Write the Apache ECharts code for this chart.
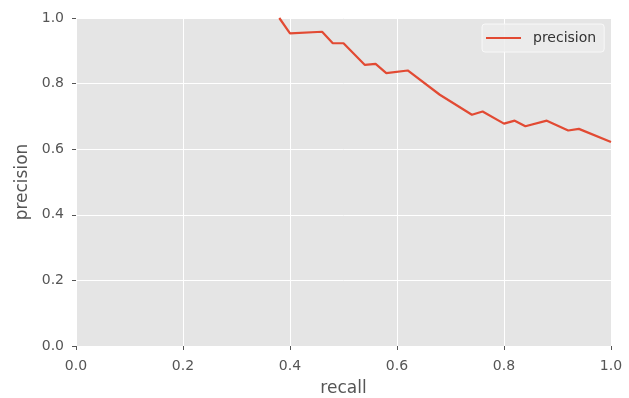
<!DOCTYPE html>
<html>
<head>
<meta charset="utf-8">
<script src="https://cdn.jsdelivr.net/npm/echarts@6/dist/echarts.min.js"></script>
<style>html,body{margin:0;padding:0;background:#fff}#c{width:629px;height:398px}</style>
</head>
<body>
<div id="c"></div>
<script>
const recall = [0.38, 0.40, 0.46, 0.48, 0.50, 0.54, 0.56, 0.58, 0.62, 0.68, 0.74, 0.76, 0.80, 0.82, 0.84, 0.88, 0.92, 0.94, 1.00];
const precision = [1.0, 0.953, 0.958, 0.923, 0.923, 0.857, 0.860, 0.832, 0.840, 0.766, 0.705, 0.715, 0.678, 0.687, 0.670, 0.687, 0.657, 0.662, 0.622];
const xTicks = [0, 0.2, 0.4, 0.6, 0.8, 1.0];
const yTicks = [0, 0.2, 0.4, 0.6, 0.8, 1.0];

const font = "'DejaVu Sans', sans-serif";
const chart = echarts.init(document.getElementById('c'), null, {renderer: 'canvas'});
chart.setOption({
  animation: false,
  grid: {left: 76, right: 18, top: 18, bottom: 52, show: true, backgroundColor: '#E5E5E5', borderWidth: 0, containLabel: false, outerBoundsMode: 'none'},
  legend: {
    data: [{name: 'precision', icon: 'rect'}],
    left: 482, top: 24,
    padding: [7, 8, 7, 4],
    itemWidth: 35, itemHeight: 2,
    backgroundColor: 'rgba(236,236,236,0.85)',
    borderColor: 'rgba(250,250,250,0.9)', borderWidth: 1, borderRadius: 3,
    textStyle: {fontFamily: font, fontSize: 14, color: '#333', padding: [0, 0, 0, 7]}
  },
  xAxis: {
    type: 'value', min: xTicks[0], max: xTicks[xTicks.length - 1], interval: 0.2,
    name: 'recall', nameLocation: 'middle', nameGap: 34,
    nameTextStyle: {fontFamily: font, fontSize: 17, color: '#555'},
    axisLine: {show: false},
    axisTick: {show: true, length: 4, lineStyle: {color: '#555'}},
    axisLabel: {fontFamily: font, fontSize: 14, color: '#555', margin: 13, formatter: v => v.toFixed(1)},
    splitLine: {show: true, lineStyle: {color: '#fff', width: 1}}
  },
  yAxis: {
    type: 'value', min: yTicks[0], max: yTicks[yTicks.length - 1], interval: 0.2,
    name: 'precision', nameLocation: 'middle', nameGap: 40,
    nameTextStyle: {fontFamily: font, fontSize: 17, color: '#555'},
    axisLine: {show: false},
    axisTick: {show: true, length: 4, lineStyle: {color: '#555'}},
    axisLabel: {fontFamily: font, fontSize: 14, color: '#555', margin: 12, formatter: v => v.toFixed(1)},
    splitLine: {show: true, lineStyle: {color: '#fff', width: 1}}
  },
  series: [{
    name: 'precision', type: 'line', symbol: 'none',
    data: recall.map((r, i) => [r, precision[i]]),
    itemStyle: {color: '#E24A33'},
    lineStyle: {color: '#E24A33', width: 2.2},
    clip: true
  }]
});
</script>
</body>
</html>
